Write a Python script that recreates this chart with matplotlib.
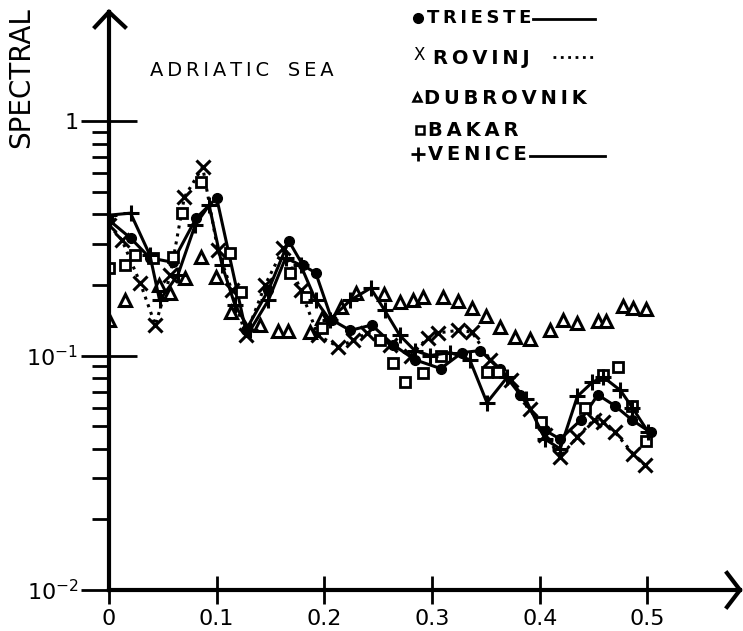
import matplotlib
matplotlib.use('Agg')
import matplotlib.pyplot as plt
from matplotlib.lines import Line2D
from matplotlib.ticker import FixedLocator

# frequency values and spectral estimates
trieste_x = [0.0, 0.020, 0.038, 0.059, 0.081, 0.100, 0.127, 0.148, 0.167, 0.180, 0.192, 0.207, 0.224,
             0.244, 0.264, 0.284, 0.308, 0.328, 0.345, 0.363, 0.382, 0.405, 0.419, 0.438, 0.454,
             0.470, 0.486, 0.503]
trieste_y = [0.378, 0.317, 0.261, 0.250, 0.386, 0.470, 0.128, 0.190, 0.308, 0.243, 0.225, 0.142, 0.128,
             0.135, 0.111, 0.096, 0.088, 0.103, 0.105, 0.088, 0.068, 0.048, 0.044, 0.053, 0.068,
             0.061, 0.053, 0.047]

rovinj_x = [0.0, 0.012, 0.029, 0.043, 0.057, 0.070, 0.087, 0.101, 0.114, 0.127, 0.145, 0.162, 0.178,
            0.194, 0.213, 0.227, 0.240, 0.261, 0.280, 0.296, 0.306, 0.324, 0.337, 0.354, 0.373,
            0.391, 0.405, 0.419, 0.435, 0.450, 0.459, 0.470, 0.487, 0.498]
rovinj_y = [0.360, 0.311, 0.204, 0.135, 0.221, 0.474, 0.637, 0.282, 0.190, 0.122, 0.200, 0.287, 0.190,
            0.122, 0.109, 0.116, 0.125, 0.111, 0.100, 0.119, 0.125, 0.128, 0.126, 0.096, 0.079,
            0.059, 0.046, 0.037, 0.045, 0.053, 0.052, 0.047, 0.038, 0.034]

dubrovnik_x = [0.0, 0.015, 0.046, 0.057, 0.071, 0.085, 0.099, 0.113, 0.140, 0.157, 0.166, 0.187, 0.198,
               0.215, 0.229, 0.255, 0.270, 0.282, 0.292, 0.310, 0.324, 0.337, 0.350, 0.363, 0.377,
               0.391, 0.410, 0.422, 0.435, 0.454, 0.462, 0.477, 0.487, 0.499]
dubrovnik_y = [0.142, 0.172, 0.200, 0.185, 0.214, 0.263, 0.216, 0.153, 0.135, 0.127, 0.127, 0.126, 0.145,
               0.161, 0.185, 0.183, 0.169, 0.172, 0.178, 0.178, 0.171, 0.160, 0.147, 0.132, 0.120,
               0.118, 0.128, 0.142, 0.138, 0.140, 0.140, 0.163, 0.160, 0.158]

bakar_x = [0.0, 0.015, 0.024, 0.041, 0.059, 0.068, 0.085, 0.112, 0.123, 0.168, 0.183, 0.198, 0.252,
           0.264, 0.275, 0.292, 0.308, 0.351, 0.361, 0.401, 0.442, 0.459, 0.473, 0.486, 0.499]
bakar_y = [0.236, 0.243, 0.268, 0.261, 0.263, 0.405, 0.550, 0.274, 0.187, 0.225, 0.178, 0.131, 0.116,
           0.093, 0.077, 0.084, 0.100, 0.085, 0.085, 0.052, 0.060, 0.083, 0.089, 0.061, 0.043]

venice_x = [0.0, 0.020, 0.038, 0.047, 0.064, 0.080, 0.093, 0.105, 0.117, 0.131, 0.148, 0.164, 0.178,
            0.192, 0.205, 0.224, 0.243, 0.256, 0.270, 0.284, 0.298, 0.317, 0.335, 0.351, 0.370,
            0.387, 0.405, 0.419, 0.435, 0.449, 0.459, 0.475, 0.486, 0.501]
venice_y = [0.397, 0.405, 0.268, 0.172, 0.221, 0.360, 0.438, 0.243, 0.164, 0.128, 0.172, 0.261, 0.243,
            0.172, 0.142, 0.172, 0.194, 0.156, 0.122, 0.105, 0.100, 0.103, 0.096, 0.063, 0.081,
            0.065, 0.044, 0.040, 0.067, 0.077, 0.081, 0.071, 0.060, 0.047]

xticks = [0, 0.1, 0.2, 0.3, 0.4, 0.5]
xticklabels = ['0', '0.1', '0.2', '0.3', '0.4', '0.5']
yticks = [0.01, 0.1, 1]
yticklabels = ['10$^{-2}$', '10$^{-1}$', '1']
yminor = [0.02, 0.03, 0.04, 0.05, 0.06, 0.07, 0.08, 0.09,
          0.2, 0.3, 0.4, 0.5, 0.6, 0.7, 0.8, 0.9]

W, H = 743, 631
fig = plt.figure(figsize=(W / 100, H / 100), dpi=100)
ax = fig.add_axes([109 / W, 41 / H, 631 / W, 578 / H])

ax.plot(trieste_x, trieste_y, '-o', color='black', lw=2.2, ms=7)
ax.plot(rovinj_x, rovinj_y, ':', color='black', lw=2.2)
ax.plot(rovinj_x, rovinj_y, 'x', color='black', ms=10, mew=2.2)
ax.plot(dubrovnik_x, dubrovnik_y, '^', color='black', mfc='white', ms=9, mew=2.2, ls='none')
ax.plot(bakar_x, bakar_y, 's', color='black', mfc='white', ms=7, mew=2, ls='none')
ax.plot(venice_x, venice_y, '-+', color='black', lw=2.2, ms=11, mew=2.2)

ax.set_yscale('log')
ax.set_xlim(0, 0.586)
ax.set_ylim(0.01, 2.92)

for s in ['top', 'right']:
    ax.spines[s].set_visible(False)
ax.spines['left'].set_linewidth(3)
ax.spines['bottom'].set_linewidth(3)

ax.set_xticks(xticks)
ax.set_xticklabels(xticklabels)
ax.set_yticks(yticks)
ax.set_yticklabels(yticklabels)
ax.yaxis.set_minor_locator(FixedLocator(yminor))
ax.tick_params(axis='x', direction='inout', length=20, width=2, labelsize=16, pad=4)
ax.tick_params(axis='y', which='major', direction='inout', length=40, width=2, labelsize=16, pad=2)
ax.tick_params(axis='y', which='minor', direction='out', length=12, width=2)
ax.tick_params(axis='x', which='minor', length=0)

# arrow heads on the axes
aw, ah = 631.0, 578.0
ax.plot([-14 / aw, 0, 16 / aw], [1 - 15 / ah, 1, 1 - 15 / ah], color='black', lw=3,
        transform=ax.transAxes, clip_on=False, solid_joinstyle='miter')
ax.plot([1 - 13 / aw, 1, 1 - 13 / aw], [17 / ah, 0, -17 / ah], color='black', lw=3,
        transform=ax.transAxes, clip_on=False, solid_joinstyle='miter')

fig.text(21 / W, 1 - 78 / H, 'SPECTRAL', rotation=90, ha='center', va='center', fontsize=20)
fig.text(150 / W, 1 - 70 / H, 'A\u2009D\u2009R\u2009I\u2009A\u2009T\u2009I\u2009C   S\u2009E\u2009A',
         ha='left', va='center', fontsize=14)

# hand-made legend
def fx(px):
    return px / W

def fy(py):
    return 1 - py / H

sp = '\u2009'
fig.add_artist(Line2D([fx(418)], [fy(18)], marker='o', ms=7, color='black', transform=fig.transFigure))
fig.text(fx(427), fy(18), sp.join('TRIESTE'), ha='left', va='center', fontsize=13, fontweight='bold')
fig.add_artist(Line2D([fx(533), fx(595)], [fy(19), fy(19)], lw=2, color='black', transform=fig.transFigure))

fig.text(fx(414), fy(55), 'X', ha='left', va='center', fontsize=12)
fig.text(fx(433), fy(59), sp.join('ROVINJ'), ha='left', va='center', fontsize=14, fontweight='bold')
fig.add_artist(Line2D([fx(553), fx(597)], [fy(57), fy(57)], lw=2, ls=':', color='black', transform=fig.transFigure))

fig.add_artist(Line2D([fx(417)], [fy(97)], marker='^', ms=6, mfc='white', mew=1.8, color='black',
                      transform=fig.transFigure))
fig.text(fx(424), fy(98), sp.join('DUBROVNIK'), ha='left', va='center', fontsize=14, fontweight='bold')

fig.add_artist(Line2D([fx(420)], [fy(130)], marker='s', ms=6, mfc='white', mew=1.8, color='black',
                      transform=fig.transFigure))
fig.text(fx(428), fy(130), sp.join('BAKAR'), ha='left', va='center', fontsize=14, fontweight='bold')

fig.add_artist(Line2D([fx(418)], [fy(154)], marker='+', ms=10, mew=2, color='black',
                      transform=fig.transFigure))
fig.text(fx(428), fy(155), sp.join('VENICE'), ha='left', va='center', fontsize=14, fontweight='bold')
fig.add_artist(Line2D([fx(530), fx(605)], [fy(156), fy(156)], lw=2, color='black', transform=fig.transFigure))

fig.savefig('out.png', dpi=100)
